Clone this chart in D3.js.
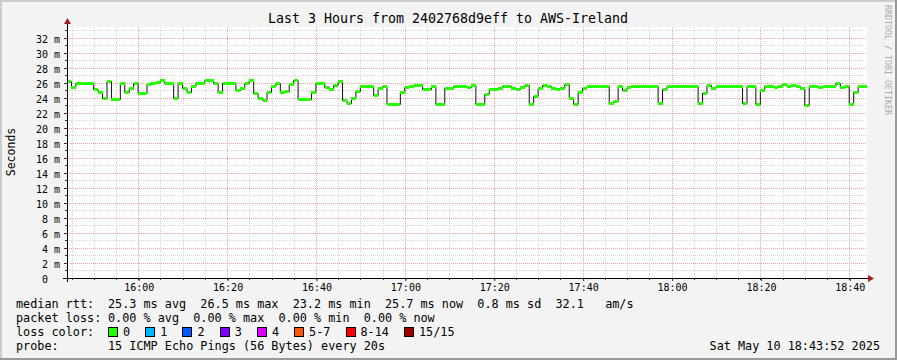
<!DOCTYPE html>
<html>
<head>
<meta charset="utf-8">
<script src="https://cdn.jsdelivr.net/npm/d3@7"></script>
<style>
  body { margin: 0; background: #f3f3f3; }
  svg text { font-family: "DejaVu Sans Mono", monospace; white-space: pre; }
</style>
</head>
<body>
<svg id="chart"></svg>
<script>
// median rtt in ms, one value per minute from 15:43:52
const medianRtt = [
  26.2, 25.4, 26.0, 26.0, 26.0, 26.0, 25.1, 24.8, 24.0, 26.2,
  23.8, 23.8, 26.0, 24.7, 25.3, 25.9, 24.6, 24.6, 25.8, 26.0,
  26.1, 26.4, 26.0, 26.0, 23.9, 26.0, 25.3, 24.7, 25.5, 26.0,
  26.0, 26.4, 26.4, 26.0, 24.8, 26.0, 26.0, 26.0, 25.0, 25.3,
  25.9, 26.3, 24.6, 24.0, 23.7, 24.8, 25.5, 26.0, 24.8, 24.9,
  25.8, 26.3, 23.8, 23.8, 23.8, 24.8, 26.0, 26.0, 25.4, 25.2,
  25.7, 26.2, 23.7, 23.3, 23.9, 24.9, 25.5, 25.5, 25.5, 24.4,
  25.3, 25.6, 23.2, 23.2, 23.2, 24.8, 25.4, 25.6, 25.7, 25.7,
  25.2, 25.2, 25.6, 23.1, 23.1, 25.3, 25.3, 25.5, 25.6, 25.5,
  25.4, 25.7, 23.2, 23.2, 24.5, 25.2, 25.2, 25.3, 25.6, 25.6,
  25.3, 25.1, 25.4, 25.7, 23.2, 24.2, 25.3, 25.7, 25.6, 25.3,
  25.2, 25.3, 25.8, 24.0, 23.2, 24.7, 25.3, 25.5, 25.5, 25.6,
  25.6, 25.6, 23.3, 23.5, 25.6, 25.0, 25.4, 25.6, 25.6, 25.6,
  25.6, 25.6, 25.6, 23.3, 25.2, 25.6, 25.6, 25.6, 25.6, 25.6,
  25.6, 25.6, 23.3, 24.6, 25.7, 25.3, 25.6, 25.6, 25.6, 25.6,
  25.6, 25.6, 23.3, 25.5, 25.6, 23.2, 25.0, 25.6, 25.6, 25.4,
  25.5, 25.8, 25.5, 25.7, 25.5, 25.3, 23.0, 25.6, 25.6, 25.4,
  25.5, 25.6, 25.5, 25.9, 25.4, 25.6, 23.2, 24.8, 25.6, 25.6
];
const startTime = new Date(2025, 4, 10, 15, 43, 52);
const endTime = new Date(2025, 4, 10, 18, 43, 52);
const yMax = 33.47;

const yTicks = [0, 2, 4, 6, 8, 10, 12, 14, 16, 18, 20, 22, 24, 26, 28, 30, 32];
const xTickLabels = ['16:00', '16:20', '16:40', '17:00', '17:20', '17:40', '18:00', '18:20', '18:40'];

const titleText = 'Last 3 Hours from 2402768d9eff to AWS-Ireland';
const rttStats = ['25.3 ms avg', '26.5 ms max', '23.2 ms min', '25.7 ms now', '0.8 ms sd', '32.1   am/s'];
const lossStats = ['0.00 % avg', '0.00 % max', '0.00 % min', '0.00 % now'];
const lossLabels = ['0', '1', '2', '3', '4', '5-7', '8-14', '15/15'];
const lossColors = ['#26ff00', '#00b8ff', '#0059ff', '#7e00ff', '#dd00ff', '#ff5500', '#ff0000', '#a00000'];
const probeText = '15 ICMP Echo Pings (56 Bytes) every 20s';
const dateText = 'Sat May 10 18:43:52 2025';

class SmokeGraph {
    constructor(_config) {
        this.config = {
            parentElement: _config.parentElement,
            containerWidth: _config.containerWidth || 897,
            containerHeight: _config.containerHeight || 360,
            margin: _config.margin || {top: 27, right: 30, bottom: 82, left: 67}
        }
        this.initVis();
    }

    initVis() {
        let vis = this;
        const m = vis.config.margin;
        vis.width = vis.config.containerWidth - m.left - m.right;
        vis.height = vis.config.containerHeight - m.top - m.bottom;

        vis.svg = d3.select(vis.config.parentElement)
            .attr('width', vis.config.containerWidth)
            .attr('height', vis.config.containerHeight);

        // background + shaded frame
        const W = vis.config.containerWidth, H = vis.config.containerHeight;
        vis.svg.append('rect').attr('width', W).attr('height', H).attr('fill', '#f3f3f3');
        vis.svg.append('path').attr('d', `M1,${H} V1 H${W}`).attr('fill', 'none')
            .attr('stroke', '#cbcbcb').attr('stroke-width', 2);
        vis.svg.append('path').attr('d', `M0,${H - 1} H${W - 1} V0`).attr('fill', 'none')
            .attr('stroke', '#999').attr('stroke-width', 2);

        vis.chart = vis.svg.append('g')
            .attr('transform', `translate(${m.left}, ${m.top})`);

        vis.chart.append('rect')
            .attr('width', vis.width)
            .attr('height', vis.height)
            .attr('fill', '#fff');

        vis.xScale = d3.scaleTime()
            .domain([startTime, endTime])
            .range([0, vis.width]);
        vis.yScale = d3.scaleLinear()
            .domain([0, yMax])
            .range([vis.height, 0]);

        vis.renderVis();
    }

    renderVis() {
        let vis = this;
        const snap = v => Math.floor(v) + 0.5;
        const parseHM = d3.timeParse('%Y-%m-%d %H:%M');
        const xTickDates = xTickLabels.map(l => parseHM('2025-05-10 ' + l));

        // grid
        const grid = vis.chart.append('g').attr('shape-rendering', 'crispEdges');
        const minorTimes = d3.timeMinute.every(5).range(startTime, endTime);
        const yMinor = d3.range(1, Math.floor(yMax) + 1);

        grid.selectAll('.vminor')
            .data(minorTimes.filter(t => t.getMinutes() % 20 !== 0))
            .join('line')
            .attr('x1', d => snap(vis.xScale(d))).attr('x2', d => snap(vis.xScale(d)))
            .attr('y1', 0).attr('y2', vis.height)
            .attr('stroke', '#d6d6d6').attr('stroke-dasharray', '1,1');
        grid.selectAll('.hminor')
            .data(yMinor.filter(v => v % 2 !== 0))
            .join('line')
            .attr('x1', 0).attr('x2', vis.width)
            .attr('y1', d => snap(vis.yScale(d))).attr('y2', d => snap(vis.yScale(d)))
            .attr('stroke', '#d6d6d6').attr('stroke-dasharray', '1,1');
        grid.selectAll('.vmajor')
            .data(xTickDates)
            .join('line')
            .attr('x1', d => snap(vis.xScale(d))).attr('x2', d => snap(vis.xScale(d)))
            .attr('y1', 0).attr('y2', vis.height)
            .attr('stroke', '#eea4a4').attr('stroke-dasharray', '1,1');
        grid.selectAll('.hmajor')
            .data(yTicks.filter(v => v > 0))
            .join('line')
            .attr('x1', 0).attr('x2', vis.width)
            .attr('y1', d => snap(vis.yScale(d))).attr('y2', d => snap(vis.yScale(d)))
            .attr('stroke', '#eea4a4').attr('stroke-dasharray', '1,1');

        // median line: black step line, then green band on each step
        const pts = medianRtt.map((v, i) => ({t: d3.timeMinute.offset(startTime, i), v: v}));
        const stepEnds = pts.map((p, i) => i < pts.length - 1 ? pts[i + 1].t : endTime);
        const line = d3.line()
            .x(d => vis.xScale(d.t))
            .y(d => snap(vis.yScale(d.v)))
            .curve(d3.curveStepAfter);
        vis.chart.append('path')
            .datum(pts.concat([{t: endTime, v: medianRtt[medianRtt.length - 1]}]))
            .attr('d', line)
            .attr('fill', 'none')
            .attr('stroke', '#111')
            .attr('stroke-width', 1);
        vis.chart.append('g').attr('shape-rendering', 'crispEdges')
            .selectAll('rect')
            .data(pts)
            .join('rect')
            .attr('x', d => vis.xScale(d.t))
            .attr('width', (d, i) => vis.xScale(stepEnds[i]) - vis.xScale(d.t))
            .attr('y', d => Math.floor(vis.yScale(d.v)) - 1)
            .attr('height', 3)
            .attr('fill', lossColors[0]);

        // axes
        vis.xAxis = d3.axisBottom(vis.xScale)
            .tickValues(xTickDates)
            .tickFormat((d, i) => xTickLabels[i])
            .tickSize(3)
            .tickSizeOuter(0);
        vis.yAxis = d3.axisLeft(vis.yScale)
            .tickValues(yTicks)
            .tickFormat(d => d)
            .tickSize(3)
            .tickPadding(16)
            .tickSizeOuter(0);

        vis.xAxisGroup = vis.chart.append('g')
            .attr('transform', `translate(0, ${vis.height})`)
            .call(vis.xAxis);
        vis.yAxisGroup = vis.chart.append('g')
            .call(vis.yAxis);

        [vis.xAxisGroup, vis.yAxisGroup].forEach(g => {
            g.select('.domain').remove();
            g.attr('font-family', null).attr('font-size', null);
            g.selectAll('line').attr('stroke', '#333');
            g.selectAll('text').attr('font-size', '10px').attr('fill', '#000');
        });
        vis.xAxisGroup.selectAll('text').attr('y', 13).attr('dy', 0);
        vis.yAxisGroup.selectAll('text').attr('dy', '0.4em');
        vis.yAxisGroup.selectAll('.tick').filter(d => d !== 0)
            .append('text')
            .attr('x', -13)
            .attr('dy', '0.4em')
            .attr('text-anchor', 'start')
            .attr('font-size', '10px')
            .attr('fill', '#000')
            .text('m');

        // minor ticks
        vis.chart.append('g').attr('shape-rendering', 'crispEdges')
            .selectAll('line')
            .data(minorTimes)
            .join('line')
            .attr('x1', d => snap(vis.xScale(d))).attr('x2', d => snap(vis.xScale(d)))
            .attr('y1', vis.height).attr('y2', vis.height + 2)
            .attr('stroke', '#333');
        vis.chart.append('g').attr('shape-rendering', 'crispEdges')
            .selectAll('line')
            .data(yMinor)
            .join('line')
            .attr('x1', -2).attr('x2', 0)
            .attr('y1', d => snap(vis.yScale(d))).attr('y2', d => snap(vis.yScale(d)))
            .attr('stroke', '#333');

        // axis lines with arrows
        vis.chart.append('line')
            .attr('x1', -4).attr('x2', vis.width + 2)
            .attr('y1', vis.height + 0.5).attr('y2', vis.height + 0.5)
            .attr('stroke', '#000');
        vis.chart.append('line')
            .attr('x1', 0.5).attr('x2', 0.5)
            .attr('y1', vis.height + 4).attr('y2', -4)
            .attr('stroke', '#000');
        vis.chart.append('path')
            .attr('d', `M${vis.width + 1},${vis.height - 3} L${vis.width + 7},${vis.height + 0.5} L${vis.width + 1},${vis.height + 4} Z`)
            .attr('fill', '#a02020');
        vis.chart.append('path')
            .attr('d', `M-3,-3 L0.5,-9 L4,-3 Z`)
            .attr('fill', '#a02020');

        // title, axis label, watermark
        vis.svg.append('text')
            .attr('x', 448).attr('y', 23)
            .attr('text-anchor', 'middle')
            .attr('font-size', '13.3px')
            .text(titleText);
        vis.svg.append('text')
            .attr('transform', 'translate(15, 152) rotate(-90)')
            .attr('text-anchor', 'middle')
            .attr('font-size', '11.5px')
            .text('Seconds');
        vis.svg.append('text')
            .attr('transform', 'translate(885, 5) rotate(90)')
            .attr('font-size', '8.3px')
            .attr('fill', '#aaa')
            .text('RRDTOOL / TOBI OETIKER');

        // legend
        const lx = 16, vx = 108, cw = 7.09, fs = '11.8px';
        const rows = [308, 322, 336, 350];
        const leg = vis.svg.append('g').attr('font-size', fs);
        leg.append('text').attr('x', lx).attr('y', rows[0]).text('median rtt:');
        leg.append('text').attr('x', vx).attr('y', rows[0]).text(rttStats.join('  '));
        leg.append('text').attr('x', lx).attr('y', rows[1]).text('packet loss:');
        leg.append('text').attr('x', vx).attr('y', rows[1]).text(lossStats.join('  '));
        leg.append('text').attr('x', lx).attr('y', rows[2]).text('loss color:');
        leg.append('text').attr('x', lx).attr('y', rows[3]).text('probe:');
        leg.append('text').attr('x', vx).attr('y', rows[3]).text(probeText);
        leg.append('text').attr('x', 880).attr('y', rows[3]).attr('text-anchor', 'end').text(dateText);

        let bx = vx;
        lossLabels.forEach((l, i) => {
            leg.append('rect')
                .attr('x', bx + 0.5).attr('y', rows[2] - 8.5)
                .attr('width', 9).attr('height', 9)
                .attr('fill', lossColors[i])
                .attr('stroke', '#000')
                .attr('shape-rendering', 'crispEdges');
            leg.append('text').attr('x', bx + 15).attr('y', rows[2]).text(l);
            bx += (l.length + 4.25) * cw;
        });
    }
}

new SmokeGraph({parentElement: '#chart'});
</script>
</body>
</html>
